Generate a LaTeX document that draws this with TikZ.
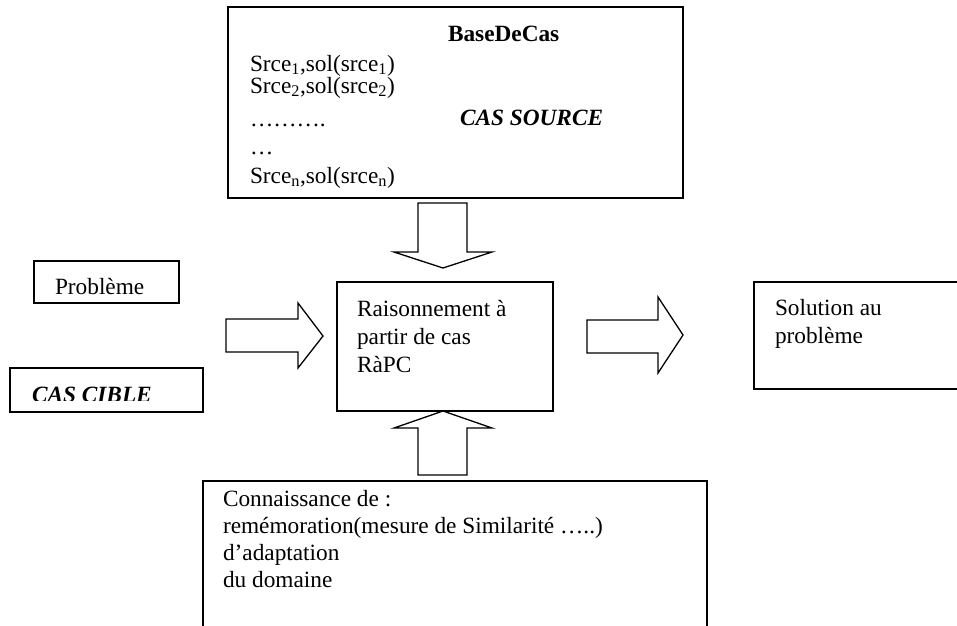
\documentclass[tikz,border=0pt]{standalone}
\usepackage{fontspec}
\setmainfont{Liberation Serif}
\begin{document}
\begin{tikzpicture}[x=1pt,y=-1pt,
  box/.style={draw, line width=1.3pt, inner sep=0pt, outer sep=0pt, anchor=north west},
  txt/.style={anchor=base west, inner sep=0pt, outer sep=0pt, font=\fontsize{23.3}{27}\selectfont},
  blockarrow/.style={draw, line width=1.3pt, line join=miter, fill=white}]
\useasboundingbox (0,0) rectangle (957,625);

% boxes
\node[box, minimum width=455pt, minimum height=191pt] (base) at (228,7) {};
\node[box, minimum width=216pt, minimum height=129pt] (rapc) at (337,282) {};
\node[box, minimum width=504pt, minimum height=200pt] (conn) at (203,481) {};
\node[box, minimum width=145pt, minimum height=42pt] (prob) at (34,261) {};
\node[box, minimum width=193pt, minimum height=44pt] (cible) at (10,368) {};
\node[box, minimum width=215pt, minimum height=107pt] (sol) at (754,282) {};

% block arrows
\draw[blockarrow] (418,203) -- (467,203) -- (467,252) -- (492,252) -- (443,268) -- (394,252) -- (418,252) -- cycle;
\draw[blockarrow] (443,411) -- (492,428) -- (467,428) -- (467,475) -- (418,475) -- (418,428) -- (394,428) -- cycle;
\draw[blockarrow] (226,319) -- (298,319) -- (298,303) -- (323,336) -- (298,368) -- (298,352) -- (226,352) -- cycle;
\draw[blockarrow] (587,320) -- (658,320) -- (658,297) -- (683,335) -- (658,373) -- (658,353) -- (587,353) -- cycle;

% top box text
\node[txt, font=\fontsize{23.3}{27}\selectfont\bfseries] (tbase) at (448,41) {BaseDeCas};
\node[txt] (ts1) at (250,71) {Srce\textsubscript{1},sol(srce\textsubscript{1})};
\node[txt] (ts2) at (250,93) {Srce\textsubscript{2},sol(srce\textsubscript{2})};
\node[txt] (tdots) at (250,126) {……….};
\node[txt, font=\fontsize{23.3}{27}\selectfont\bfseries\itshape] (tsrc) at (460,125) {CAS SOURCE};
\node[txt] (tdots2) at (250,154) {…};
\node[txt] (tsn) at (250,183) {Srce\textsubscript{n},sol(srce\textsubscript{n})};

% centre text
\node[txt] (r1) at (357,316) {Raisonnement à};
\node[txt] (r2) at (357,344) {partir de cas};
\node[txt] (r3) at (357,372) {RàPC};

% left boxes text
\node[txt] (tprob) at (55,294) {Problème};
\begin{scope}
\clip (10,368) rectangle (203,400.5);
\node[txt, font=\fontsize{23.3}{27}\selectfont\bfseries\itshape] (tcible) at (32,402) {CAS CIBLE};
\end{scope}

% solution text
\node[txt] (s1) at (775,315) {Solution au};
\node[txt] (s2) at (775,343) {problème};

% bottom text
\node[txt] (c1) at (223,506) {Connaissance de :};
\node[txt] (c2) at (223,533) {remémoration(mesure de Similarité …..)};
\node[txt] (c3) at (223,560) {d’adaptation};
\node[txt] (c4) at (223,587) {du domaine};
\end{tikzpicture}
\end{document}
